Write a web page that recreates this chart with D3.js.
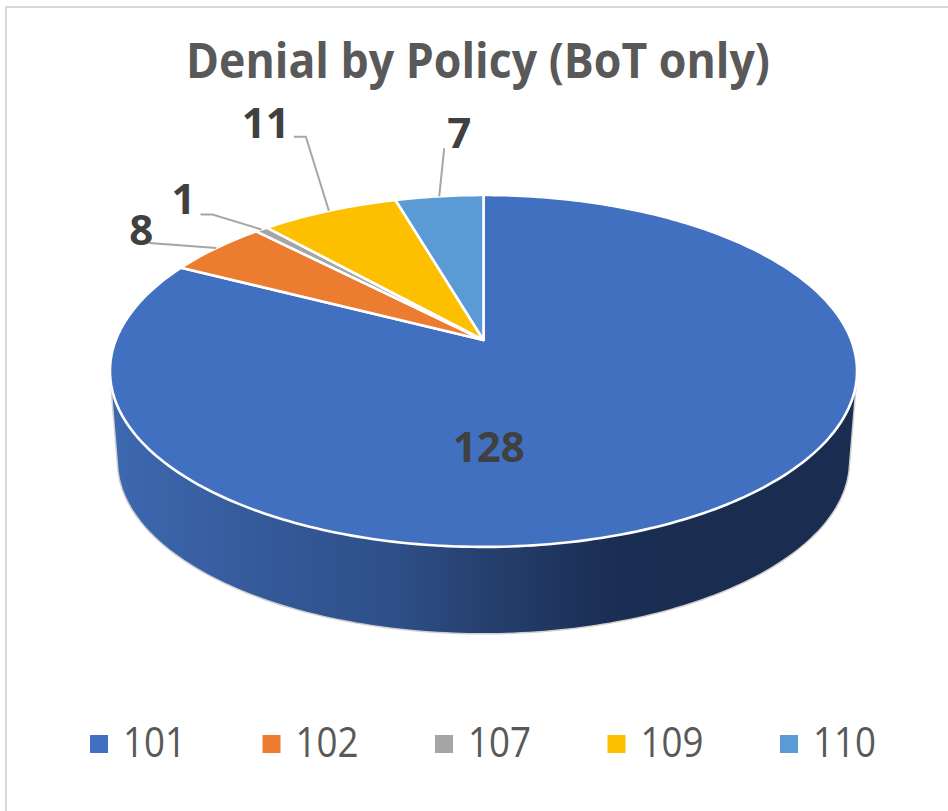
<!DOCTYPE html>
<html><head><meta charset="utf-8">
<script src="https://cdn.jsdelivr.net/npm/d3@7/dist/d3.min.js"></script>
<style>html,body{margin:0;padding:0;background:#fff;overflow:hidden}svg{display:block}</style>
</head><body><svg id="c" width="948" height="811"></svg>
<script>
const title = "Denial by Policy (BoT only)";
const categories = ["101","102","107","109","110"];
const values = [128,8,1,11,7];
const colors = ["#4270C0","#EC7C30","#A5A5A5","#FCC000","#5B9BD5"];

// label placement relative to each slice's outer mid-point, and leader elbow offset
const labelOffsets = [[-220,-49],[-75,-3],[-78,-15],[-63,-73],[20,-48]];
const leaderStarts = [null,[-67,-5],[-61,-15],[-35,-74],[5,-48]];
const leaderElbows = [null,null,[-49,-15],[-23,-74],null];

const svg = d3.select("#c");
const font = "'Open Sans',sans-serif";

// perspective projection of the pie disc
const cx=483.5, apexY=340, a=367.7, b=170.5, k=-0.176;
const project=(theta,r=1,s=1,dy=0)=>{
  const u=r*Math.sin(theta), v=-r*Math.cos(theta), w=1+k*v;
  return [cx+s*a*u/w, apexY+dy+s*b*v/w];
};
const depth=91, lowerScale=0.98;

const pie=d3.pie().sort(null).value(d=>d).startAngle(0).endAngle(2*Math.PI);
const arcs=pie(values);
const line=d3.line();

const defs=svg.append("defs");
const grad=defs.append("linearGradient").attr("id","side").attr("gradientUnits","userSpaceOnUse")
  .attr("x1",110).attr("x2",857).attr("y1",0).attr("y2",0);
[[0,"#3D69B0"],[0.2,"#355A9A"],[0.38,"#2E4F88"],[0.5,"#26406F"],[0.68,"#1A2D52"],[1,"#1A2D50"]]
  .forEach(([o,c])=>grad.append("stop").attr("offset",o).attr("stop-color",c));

// chart frame
svg.append("path").attr("d","M6,811V7H948").attr("fill","none").attr("stroke","#D9D9D9").attr("stroke-width",2);

// title
svg.append("text").attr("x",478).attr("y",78).attr("text-anchor","middle")
  .attr("font-family",font).attr("font-weight",700).attr("font-size",49).attr("fill","#595959")
  .attr("textLength",584).attr("lengthAdjust","spacingAndGlyphs").text(title);

// side wall: hull of the upper and lower rims
const rim=d3.range(0,360,1).map(t=>t*Math.PI/180);
const hull=d3.polygonHull(rim.map(t=>project(t)).concat(rim.map(t=>project(t,1,lowerScale,depth))));
svg.append("path").attr("d",line(hull)+"Z").attr("fill","url(#side)").attr("stroke","#CFCFCF").attr("stroke-width",1.5);

// top slices
svg.append("g").selectAll("path").data(arcs).join("path")
  .attr("d",d=>{
    const n=Math.max(2,Math.ceil((d.endAngle-d.startAngle)*180/Math.PI));
    const pts=d3.range(n+1).map(i=>project(d.startAngle+(d.endAngle-d.startAngle)*i/n));
    return line([project(0,0)].concat(pts))+"Z";
  })
  .attr("fill",(d,i)=>colors[i]).attr("stroke","#fff").attr("stroke-width",2.6).attr("stroke-linejoin","round");

// leaders and labels
const anchors=arcs.map(d=>project((d.startAngle+d.endAngle)/2));
svg.append("g").selectAll("path").data(arcs.map((d,i)=>i).filter(i=>leaderStarts[i])).join("path")
  .attr("d",i=>{
    const p=anchors[i], pts=[[p[0]+leaderStarts[i][0],p[1]+leaderStarts[i][1]]];
    if(leaderElbows[i]) pts.push([p[0]+leaderElbows[i][0],p[1]+leaderElbows[i][1]]);
    pts.push(p); return line(pts);
  })
  .attr("fill","none").attr("stroke","#A6A6A6").attr("stroke-width",2);
svg.append("g").selectAll("text").data(values).join("text")
  .attr("x",(d,i)=>anchors[i][0]+labelOffsets[i][0])
  .attr("y",(d,i)=>anchors[i][1]+labelOffsets[i][1])
  .attr("text-anchor","middle").attr("font-family",font).attr("font-weight",700)
  .attr("font-size",42).attr("fill","#404040").text(d=>d);

// legend
const lx=d3.scalePoint().domain(categories).range([90,780]);
const leg=svg.append("g").selectAll("g").data(categories).join("g").attr("transform",d=>`translate(${lx(d)},0)`);
leg.append("rect").attr("y",735).attr("width",18).attr("height",18).attr("fill",(d,i)=>colors[i]);
leg.append("text").attr("x",33).attr("y",757).attr("font-family",font).attr("font-size",42).attr("fill","#595959")
  .attr("textLength",63).attr("lengthAdjust","spacingAndGlyphs").text(d=>d);
</script></body></html>
